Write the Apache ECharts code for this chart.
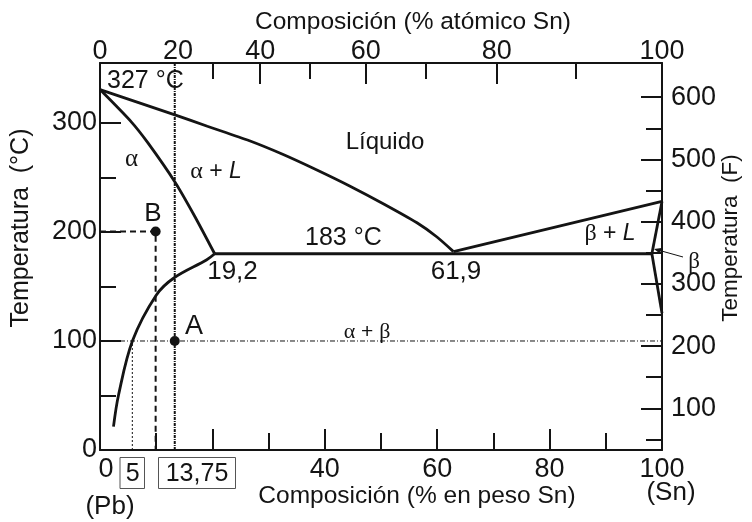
<!DOCTYPE html>
<html>
<head>
<meta charset="utf-8">
<script src="https://cdn.jsdelivr.net/npm/echarts@6/dist/echarts.min.js"></script>
<style>
html,body{margin:0;padding:0;background:#fff;}
#chart{width:752px;height:522px;}
</style>
</head>
<body>
<div id="chart"></div>
<script>
// curvas del diagrama Pb-Sn, [% en peso Sn, °C]
var liquidusLeft = [[0,330.6],[13.2,307.6],[19.1,297],[26.6,283.7],[32.5,271.3],[38.5,257.1],[44.5,242],[50.4,225.9],[56.4,208.4],[59.9,195.6],[62.9,182]];
var solidusAlpha = [[0,330.6],[5.6,300.8],[8.5,281.9],[13.3,246.1],[16.8,214.9],[20.4,180]];
var solvusAlpha = [[20.4,180],[19,174.5],[13.2,158],[10,142],[5.8,100.4],[3.3,50.5],[2.4,21.4]];
var eutecticLine = [[20.4,180],[98.2,180]];
var liquidusRight = [[62.9,182],[100,228]];
var solidusBeta = [[100,228],[98.2,180]];
var solvusBeta = [[98.2,180],[100,125.5]];

// lineas auxiliares y puntos A, B
var lineT100 = [[0,100],[100,100]];
var lineW5 = [[5.75,0],[5.75,100]];
var lineA = [[13.3,0],[13.3,355]];
var lineB = [[0,200.5],[9.9,200.5],[9.9,0]];
var points = [[13.3,100],[9.9,200.5]];

// ejes
var wtMajor = [20,40,60,80];
var wtMinor = [10,30,50,70,90];
var wtLabels = [0,40,60,80,100];
var atLabels = ['0','20','40','60','80','100'];
var atLabelPos = [0,13.9,28.5,47.3,70.6,100];
var atMajorPos = [28.5,47.3,70.6];
var atMinorPos = [20.1,37.4,58.0,84.7];
var cMajor = [100,200,300];
var cMinor = [50,150,250];
var cLabels = [0,100,200,300];
var fMajor = [100,200,300,400,500,600];
var fMinor = [50,150,250,350,450,550];

var INK = '#141414';
var SANS = 'Liberation Sans';
var SERIF = 'Liberation Serif';

function axis(pos, min, max, ticks, len, opt) {
  opt = opt || {};
  return {
    type: 'value', position: pos, min: min, max: max,
    axisLine: {show: !!opt.line, onZero: false, lineStyle: {color: INK, width: 2}},
    splitLine: {show: false},
    axisTick: {show: true, inside: true, length: len, customValues: ticks, lineStyle: {color: INK, width: 2}},
    axisLabel: opt.labels ? {
      show: true, customValues: opt.labels, margin: opt.margin, fontSize: 27, lineHeight: 20,
      fontFamily: SANS, color: INK, formatter: opt.fmt, rich: opt.rich
    } : {show: false}
  };
}

function txt(x, y, text, size, extra) {
  var s = {text: text, fontSize: size, fontFamily: SANS, fill: INK, align: 'center', verticalAlign: 'middle'};
  if (extra) for (var k in extra) s[k] = extra[k];
  return {type: 'text', x: x, y: y, style: s, z: 10};
}

function line(data, w, type, smooth) {
  return {
    type: 'line', data: data, showSymbol: false, smooth: smooth || false,
    xAxisIndex: 0, yAxisIndex: 0, silent: true,
    lineStyle: {color: INK, width: w, type: type || 'solid'}
  };
}

var greek = {fontFamily: SERIF, fontSize: 24, fill: INK};
var ital = {fontFamily: SANS, fontSize: 23, fontStyle: 'italic', fill: INK};

var chart = echarts.init(document.getElementById('chart'));
chart.setOption({
  animation: false,
  backgroundColor: '#fff',
  grid: {left: 100, top: 63, width: 562, height: 387, outerBoundsMode: 'none'},
  xAxis: [
    axis('bottom', 0, 100, wtMajor, 21, {line: true, labels: wtLabels, margin: 10,
      fmt: function (v) { return v === 0 ? '{z|0}' : String(v); },
      rich: {z: {padding: [0, 0, 0, 12], fontSize: 27, fontFamily: SANS, color: INK}}}),
    axis('top', 0, 100, atMajorPos, 21, {line: true, labels: atLabelPos, margin: 1,
      fmt: function (v) {
        var best = 0;
        for (var i = 0; i < atLabelPos.length; i++) if (Math.abs(atLabelPos[i] - v) < Math.abs(atLabelPos[best] - v)) best = i;
        return atLabels[best];
      }}),
    axis('bottom', 0, 100, wtMinor, 17),
    axis('top', 0, 100, atMinorPos, 16)
  ],
  yAxis: [
    axis('left', 0, 355, cMajor, 21, {line: true, labels: cLabels, margin: 3}),
    axis('right', 33, 655, fMajor, 21, {line: true, labels: fMajor, margin: 9}),
    axis('left', 0, 355, cMinor, 16),
    axis('right', 33, 655, fMinor, 16)
  ],
  series: [
    line(lineT100, 1, [5, 2, 1, 2]),
    line(lineW5, 1, [2, 2]),
    line(lineA, 2, [3, 1, 1, 1]),
    line(lineB, 2, [6, 4]),
    line(liquidusLeft, 2.8, 'solid', 0.25),
    line(solidusAlpha, 2.8, 'solid', 0.25),
    line(solvusAlpha, 2.8, 'solid', 0.35),
    line(eutecticLine, 2.8),
    line(liquidusRight, 2.8),
    line(solidusBeta, 2.8),
    line(solvusBeta, 2.8),
    {type: 'scatter', data: points, symbolSize: 10, itemStyle: {color: INK, opacity: 1}, xAxisIndex: 0, yAxisIndex: 0, z: 5, silent: true}
  ],
  graphic: [
    txt(413, 22.5, 'Composición (% atómico Sn)', 24.5),
    txt(417, 496, 'Composición (% en peso Sn)', 24.5),
    txt(110, 507, '(Pb)', 26),
    txt(671, 493, '(Sn)', 26),
    {type: 'text', x: 21, y: 228, rotation: Math.PI / 2, z: 10,
      style: {text: 'Temperatura  (°C)', fontSize: 25, fontFamily: SANS, fill: INK, align: 'center', verticalAlign: 'middle'}},
    {type: 'text', x: 731, y: 238, rotation: Math.PI / 2, z: 10,
      style: {text: 'Temperatura  (F)', fontSize: 22.5, fontFamily: SANS, fill: INK, align: 'center', verticalAlign: 'middle'}},
    txt(107, 81, '327 °C', 25, {align: 'left'}),
    txt(385, 142.5, 'Líquido', 24),
    txt(305, 238, '183 °C', 25, {align: 'left'}),
    txt(232.5, 272, '19,2', 26),
    txt(456, 272, '61,9', 26),
    txt(194, 327, 'A', 27),
    txt(153, 214, 'B', 26),
    txt(132.7, 474, '5', 25),
    txt(197, 474, '13,75', 25),
    {type: 'rect', shape: {x: 120, y: 457.5, width: 24.5, height: 31}, style: {fill: null, stroke: '#555', lineWidth: 1}},
    {type: 'rect', shape: {x: 158.5, y: 457.5, width: 77, height: 31}, style: {fill: null, stroke: '#555', lineWidth: 1}},
    txt(131.5, 159, 'α', 25, {fontFamily: SERIF}),
    txt(216, 172, '{g|α} + {i|L}', 23, {rich: {g: greek, i: ital}}),
    txt(610, 234, '{g|β} + {i|L}', 23, {rich: {g: greek, i: ital}}),
    txt(367, 332, '{g|α} + {g|β}', 21, {rich: {g: {fontFamily: SERIF, fontSize: 22, fill: INK}}}),
    txt(694, 262, 'β', 23, {fontFamily: SERIF}),
    {type: 'line', shape: {x1: 683, y1: 257, x2: 658, y2: 250}, style: {stroke: INK, lineWidth: 1}},
    {type: 'polygon', shape: {points: [[654, 249], [661.5, 248], [660, 253.7]]}, style: {fill: INK}}
  ]
});
</script>
</body>
</html>
